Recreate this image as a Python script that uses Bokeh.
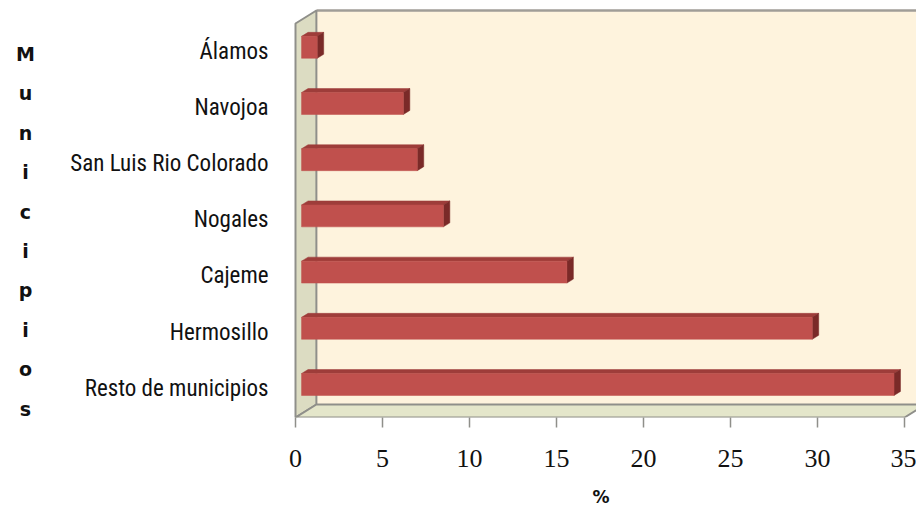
import numpy as np
from bokeh.plotting import figure
from bokeh.models import Range1d, FixedTicker
from bokeh.layouts import row
from bokeh.core.properties import value
from bokeh.embed import file_html
from bokeh.resources import INLINE

# ---- data ----
categories = ["Resto de municipios", "Hermosillo", "Cajeme", "Nogales",
              "San Luis Rio Colorado", "Navojoa", "Álamos"]
values = [34.05, 29.35, 15.25, 8.15, 6.65, 5.85, 0.9]
x_ticks = [0, 5, 10, 15, 20, 25, 30, 35]
x_title = "%"
y_title = "Municipios"

# ---- pseudo 3-D geometry (data units) ----
AXIS_MIN, AXIS_MAX = 0, 35
DX, DY = 1.2, 0.231          # depth offset of the back plane
F0, F1 = 0.29, 0.60          # bar front / back depth
BAR_H = 0.39
FLOOR = -0.52
TOP = 6.491

H = 527
TITLE_W = 34
W = 916 - TITLE_W
FRAME_BOTTOM = 417

p = figure(width=W, height=H, output_backend="svg", toolbar_location=None,
           x_range=Range1d(-0.575, 35.69), y_range=Range1d(FLOOR, 6.900),
           min_border_left=285 - TITLE_W, min_border_right=0, min_border_top=0,
           min_border_bottom=H - FRAME_BOTTOM)
p.grid.visible = False
p.outline_line_color = None
p.background_fill_color = "white"
p.border_fill_color = "white"

def proj(x, y, d):
    return x + d * DX, y + d * DY

WALL_LINE = "#8f8f8a"
# back wall
p.patch([AXIS_MIN + DX, AXIS_MAX + DX, AXIS_MAX + DX, AXIS_MIN + DX],
        [FLOOR + DY, FLOOR + DY, TOP + DY, TOP + DY],
        fill_color="#fef3dd", line_color=None)
p.line([AXIS_MIN + DX, AXIS_MAX + DX], [TOP + DY, TOP + DY], line_color="#a09d97", line_width=2.5)
# left wall
p.patch([AXIS_MIN, AXIS_MIN, AXIS_MIN + DX, AXIS_MIN + DX],
        [FLOOR, TOP, TOP + DY, FLOOR + DY],
        fill_color="#dcdcc2", line_color=WALL_LINE, line_width=2)
# floor
p.patch([AXIS_MIN, AXIS_MAX, AXIS_MAX + DX, AXIS_MIN + DX],
        [FLOOR, FLOOR, FLOOR + DY, FLOOR + DY],
        fill_color="#e4e6ca", line_color=WALL_LINE, line_width=2)

# bars
fx, fy, tx, ty, sx, sy = [], [], [], [], [], []
for i, v in enumerate(values):
    yb, yt = i - BAR_H / 2, i + BAR_H / 2
    pts = [proj(AXIS_MIN, yb, F0), proj(v, yb, F0), proj(v, yt, F0), proj(AXIS_MIN, yt, F0)]
    fx.append([a for a, b in pts]); fy.append([b for a, b in pts])
    pts = [proj(AXIS_MIN, yt, F0), proj(v, yt, F0), proj(v, yt, F1), proj(AXIS_MIN, yt, F1)]
    tx.append([a for a, b in pts]); ty.append([b for a, b in pts])
    pts = [proj(v, yb, F0), proj(v, yt, F0), proj(v, yt, F1), proj(v, yb, F1)]
    sx.append([a for a, b in pts]); sy.append([b for a, b in pts])
p.patches(tx, ty, fill_color="#9e3d3a", line_color="#9e3d3a", line_width=0.5)
p.patches(sx, sy, fill_color="#7a2a28", line_color="#7a2a28", line_width=0.5)
p.patches(fx, fy, fill_color="#c0504d", line_color="#c0504d", line_width=0.5)

# x axis
xa = p.xaxis[0]
xa.ticker = FixedTicker(ticks=x_ticks)
xa.axis_line_color = None
xa.major_tick_line_color = WALL_LINE
xa.major_tick_line_width = 1.5
xa.major_tick_out = 10
xa.major_tick_in = 0
xa.minor_tick_line_color = None
xa.major_label_standoff = 22
xa.major_label_text_font = "Liberation Serif"
xa.major_label_text_font_size = "26px"
xa.major_label_text_color = "#111111"
xa.axis_label = x_title
xa.axis_label_text_font = "DejaVu Sans"
xa.axis_label_text_font_style = "bold"
xa.axis_label_text_font_size = "17px"
xa.axis_label_standoff = 17
xa.axis_label_text_color = "#111111"

# y axis (categories)
ya = p.yaxis[0]
ya.ticker = FixedTicker(ticks=list(range(len(categories))))
ya.major_label_overrides = {i: c for i, c in enumerate(categories)}
ya.axis_line_color = None
ya.major_tick_line_color = None
ya.minor_tick_line_color = None
ya.major_tick_out = 0
ya.major_label_standoff = 17
ya.major_label_text_font = "'Roboto Condensed', 'DejaVu Sans Condensed', sans-serif"
ya.major_label_text_font_size = "23px"
ya.major_label_text_color = "#111111"

# vertical stacked axis title, one letter per line
# (the row layout aligns this frame with the main frame: 0 .. FRAME_BOTTOM px)
t = figure(width=TITLE_W, height=H, output_backend="svg", toolbar_location=None,
           x_range=Range1d(0, TITLE_W), y_range=Range1d(FRAME_BOTTOM, 0),
           min_border_left=0, min_border_right=0, min_border_top=0,
           min_border_bottom=H - FRAME_BOTTOM)
t.axis.visible = False
t.grid.visible = False
t.outline_line_color = None
t.border_fill_color = "white"
t.background_fill_color = "white"
letters = list(y_title)
t.text(x=[25] * len(letters), y=[53.5 + 39.4 * k for k in range(len(letters))],
       text=letters, text_align="center", text_baseline="alphabetic",
       text_font=value("DejaVu Sans"), text_font_style="bold",
       text_font_size="19px", text_color="#111111")

layout = row(t, p, spacing=0)
open("out.html", "w").write(file_html(layout, INLINE))
